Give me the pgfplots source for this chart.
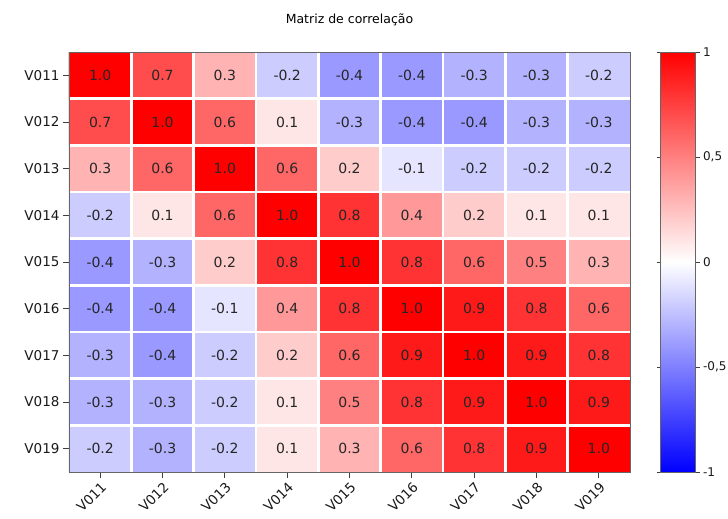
\documentclass[border=0pt]{standalone}
\usepackage{pgfplots}
\usepackage{pgfplotstable}
\pgfplotsset{compat=1.18}
\usepackage{fontspec}
\setmainfont{DejaVu Sans}

% correlation matrix: column index x, row index y, coefficient c
\pgfplotstableread{
x y c
0 0 1.0
1 0 0.7
2 0 0.3
3 0 -0.2
4 0 -0.4
5 0 -0.4
6 0 -0.3
7 0 -0.3
8 0 -0.2
0 1 0.7
1 1 1.0
2 1 0.6
3 1 0.1
4 1 -0.3
5 1 -0.4
6 1 -0.4
7 1 -0.3
8 1 -0.3
0 2 0.3
1 2 0.6
2 2 1.0
3 2 0.6
4 2 0.2
5 2 -0.1
6 2 -0.2
7 2 -0.2
8 2 -0.2
0 3 -0.2
1 3 0.1
2 3 0.6
3 3 1.0
4 3 0.8
5 3 0.4
6 3 0.2
7 3 0.1
8 3 0.1
0 4 -0.4
1 4 -0.3
2 4 0.2
3 4 0.8
4 4 1.0
5 4 0.8
6 4 0.6
7 4 0.5
8 4 0.3
0 5 -0.4
1 5 -0.4
2 5 -0.1
3 5 0.4
4 5 0.8
5 5 1.0
6 5 0.9
7 5 0.8
8 5 0.6
0 6 -0.3
1 6 -0.4
2 6 -0.2
3 6 0.2
4 6 0.6
5 6 0.9
6 6 1.0
7 6 0.9
8 6 0.8
0 7 -0.3
1 7 -0.3
2 7 -0.2
3 7 0.1
4 7 0.5
5 7 0.8
6 7 0.9
7 7 1.0
8 7 0.9
0 8 -0.2
1 8 -0.3
2 8 -0.2
3 8 0.1
4 8 0.3
5 8 0.6
6 8 0.8
7 8 0.9
8 8 1.0
}\corr

\begin{document}
\begin{tikzpicture}
\path[use as bounding box] (-69pt,-47pt) rectangle (659pt,472pt);
\begin{axis}[
  at={(0,0)}, anchor=south west,
  scale only axis, width=561pt, height=420pt,
  xmin=-0.5, xmax=8.5, ymin=-0.5, ymax=8.5, y dir=reverse,
  enlargelimits=false,
  xtick={0,...,8}, ytick={0,...,8},
  xticklabels={V011,V012,V013,V014,V015,V016,V017,V018,V019},
  yticklabels={V011,V012,V013,V014,V015,V016,V017,V018,V019},
  minor xtick={0.5,1.5,...,7.5}, minor ytick={0.5,1.5,...,7.5},
  minor grid style={white, line width=2.5pt},
  xminorgrids, yminorgrids, minor tick length=0pt,
  axis on top,
  tick align=outside, tick pos=left,
  major tick length=6pt,
  tick style={black!75, line width=0.9pt},
  axis line style={black!60},
  tick label style={font=\fontsize{13.5}{15}\selectfont, text=black!90},
  x tick label style={rotate=45, anchor=north east, inner sep=2pt},
  title={Matriz de correlação},
  title style={font=\fontsize{12.5}{14}\selectfont, yshift=17pt},
  colormap={bwr}{rgb255=(0,0,255) rgb255=(255,255,255) rgb255=(255,0,0)},
  point meta min=-1, point meta max=1,
  colorbar,
  colorbar/width=35pt,
  colorbar style={
    at={(parent axis.north east)}, anchor=north west, xshift=22pt,
    ytick={-1,-0.5,0,0.5,1},
    yticklabels={-1,{-0,5},0,{0,5},1},
    tick align=outside, major tick length=4pt,
    tick style={black!75, line width=0.9pt},
    axis line style={black!60},
    tick label style={font=\fontsize{12}{14}\selectfont, text=black!90},
  },
]
\addplot[matrix plot*, mesh/cols=9, point meta=explicit] table[x=x, y=y, meta=c] {\corr};
\addplot[draw=none, point meta=explicit,
  nodes near coords={\pgfmathprintnumber[fixed, fixed zerofill, precision=1, assume math mode=true]{\pgfplotspointmeta}},
  every node near coord/.append style={anchor=center, text=black!85, font=\fontsize{14}{16}\selectfont}]
  table[x=x, y=y, meta=c] {\corr};
\end{axis}
\end{tikzpicture}
\end{document}
